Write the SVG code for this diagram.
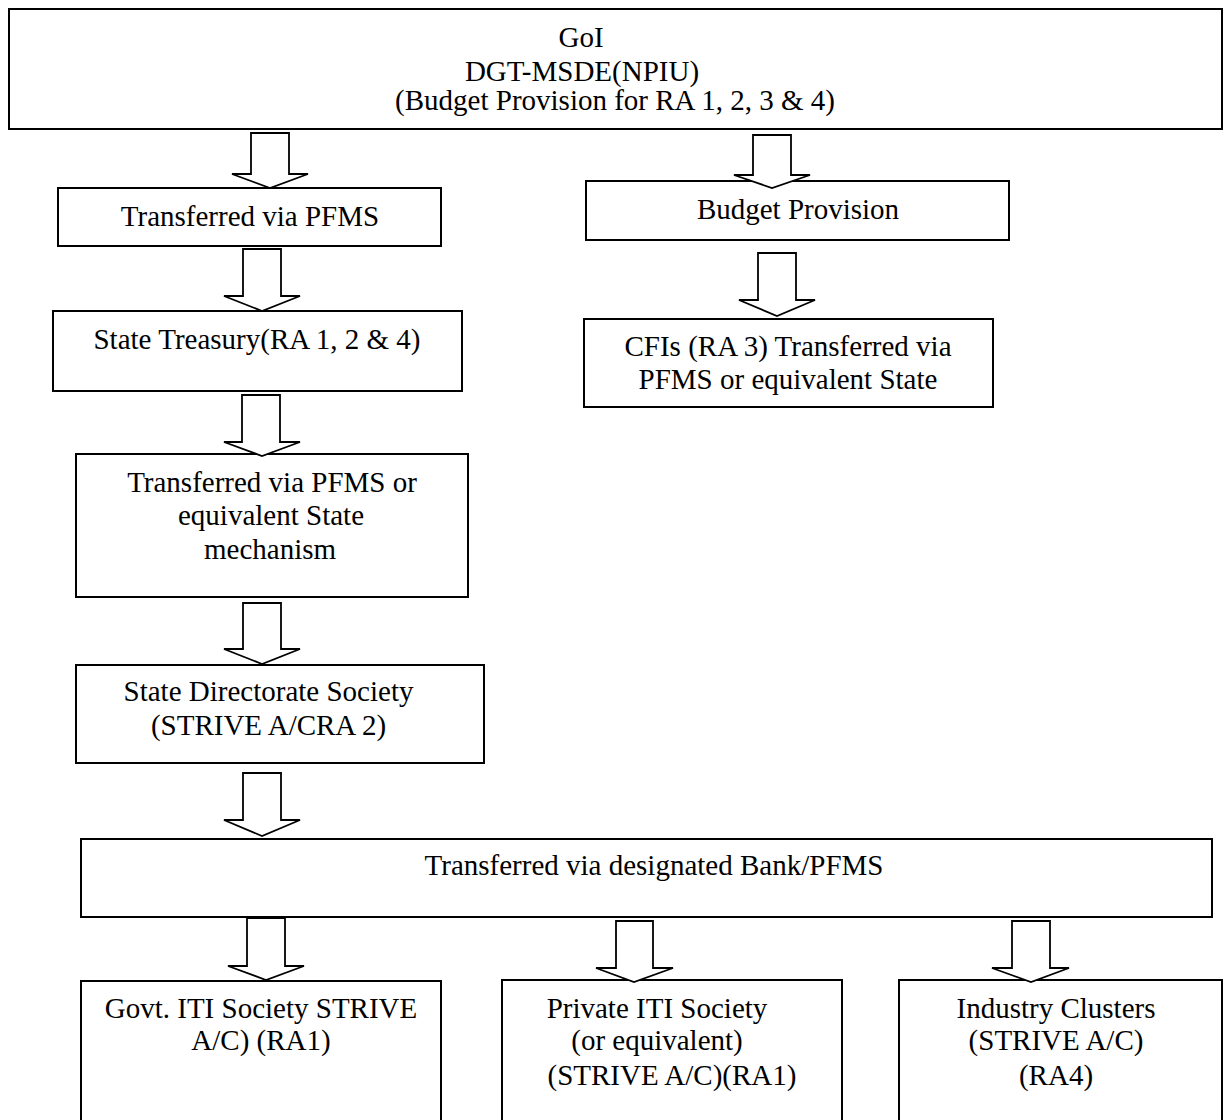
<svg xmlns="http://www.w3.org/2000/svg" width="1228" height="1120" viewBox="0 0 1228 1120">
<style>
.box{fill:#fff;stroke:#000;stroke-width:2}
.arr{fill:#fff;stroke:#000;stroke-width:1.8;stroke-linejoin:miter}
.t{font-family:'Liberation Serif','Times New Roman',Times,'DejaVu Serif',serif;font-size:29px;fill:#000;text-anchor:middle}
</style>
<rect width="1228" height="1120" fill="#fff"/>
<g id="n-goi">
<rect class="box" x="9" y="9" width="1213" height="120"/>
<text class="t" x="581" y="47">GoI</text>
<text class="t" x="582" y="81">DGT-MSDE(NPIU)</text>
<text class="t" x="615" y="110">(Budget Provision for RA 1, 2, 3 &amp; 4)</text>
</g>
<g id="n-pfms">
<rect class="box" x="58" y="188" width="383" height="58"/>
<text class="t" x="250" y="226">Transferred via PFMS</text>
</g>
<g id="n-budget">
<rect class="box" x="586" y="181" width="423" height="59"/>
<text class="t" x="798" y="219">Budget Provision</text>
</g>
<g id="n-treasury">
<rect class="box" x="53" y="311" width="409" height="80"/>
<text class="t" x="257" y="349">State Treasury(RA 1, 2 &amp; 4)</text>
</g>
<g id="n-cfi">
<rect class="box" x="584" y="319" width="409" height="88"/>
<text class="t" x="788" y="356">CFIs (RA 3) Transferred via</text>
<text class="t" x="788" y="389">PFMS or equivalent State</text>
</g>
<g id="n-mech">
<rect class="box" x="76" y="454" width="392" height="143"/>
<text class="t" x="272" y="492">Transferred via PFMS or</text>
<text class="t" x="271" y="525">equivalent State</text>
<text class="t" x="270" y="559">mechanism</text>
</g>
<g id="n-sds">
<rect class="box" x="76" y="665" width="408" height="98"/>
<text class="t" x="268.5" y="701">State Directorate Society</text>
<text class="t" x="268.5" y="735">(STRIVE A/CRA 2)</text>
</g>
<g id="n-bank">
<rect class="box" x="81" y="839" width="1131" height="78"/>
<text class="t" x="654" y="875">Transferred via designated Bank/PFMS</text>
</g>
<g id="n-govt">
<rect class="box" x="81" y="981" width="360" height="160"/>
<text class="t" x="261" y="1018">Govt. ITI Society STRIVE</text>
<text class="t" x="261" y="1050">A/C) (RA1)</text>
</g>
<g id="n-private">
<rect class="box" x="502" y="980" width="340" height="160"/>
<text class="t" x="657" y="1018">Private ITI Society</text>
<text class="t" x="657" y="1050">(or equivalent)</text>
<text class="t" x="672" y="1085">(STRIVE A/C)(RA1)</text>
</g>
<g id="n-industry">
<rect class="box" x="899" y="980" width="323" height="160"/>
<text class="t" x="1056" y="1018">Industry Clusters</text>
<text class="t" x="1056" y="1050">(STRIVE A/C)</text>
<text class="t" x="1056" y="1085">(RA4)</text>
</g>
<g id="connectors">
<path class="arr" d="M251 133H289V174H308L270 188L232 174H251Z"/>
<path class="arr" d="M243 249H281V296H300L262 311L224 296H243Z"/>
<path class="arr" d="M242 395H280V442H300L262 456L224 442H242Z"/>
<path class="arr" d="M243 603H281V649H300L262 664L224 649H243Z"/>
<path class="arr" d="M243 773H281V820H300L262 836L224 820H243Z"/>
<path class="arr" d="M247 918H285V966H304L266 980L228 966H247Z"/>
<path class="arr" d="M616 921H653V968H673L634 982L596 968H616Z"/>
<path class="arr" d="M1012 921H1050V968H1069L1031 982L992 968H1012Z"/>
<path class="arr" d="M753 135H791V175H810L772 188L734 175H753Z"/>
<path class="arr" d="M758 253H796V300H815L777 316L739 300H758Z"/>
</g>
</svg>
